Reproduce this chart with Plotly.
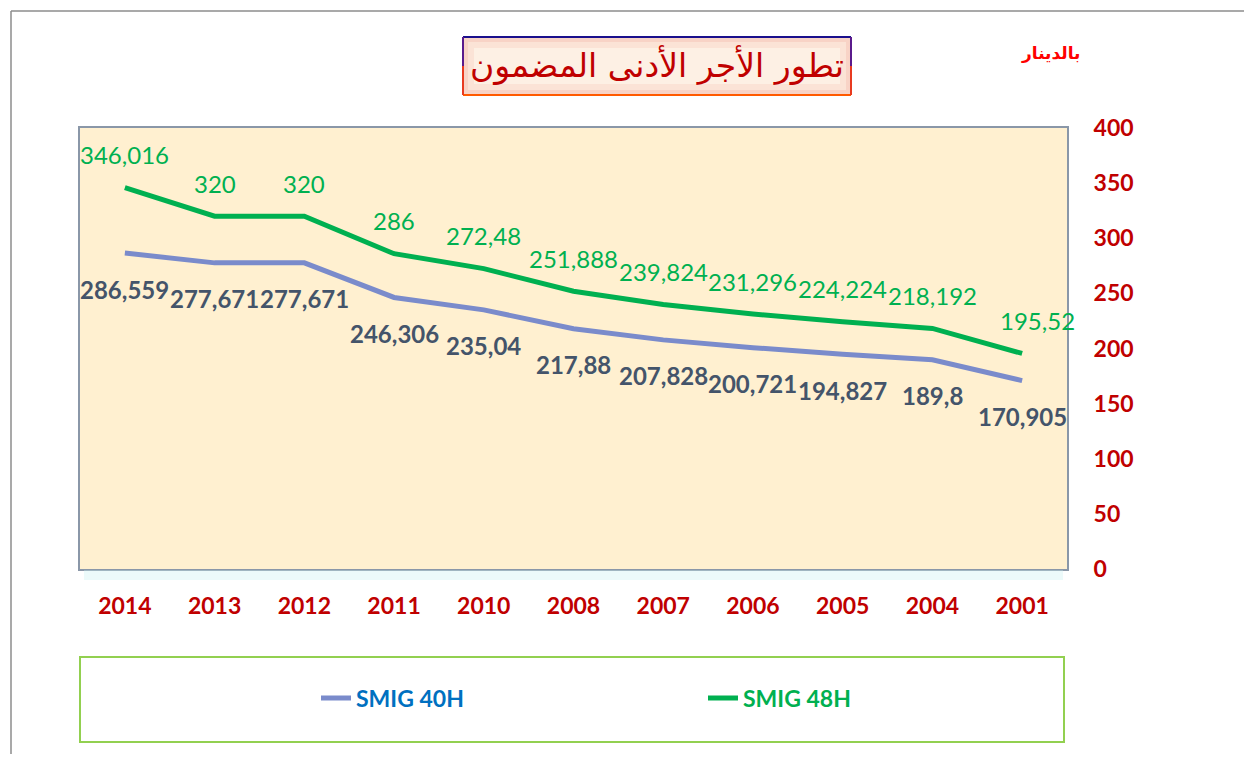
"""تطور الأجر الأدنى المضمون: SMIG 40H / 48H"""

import plotly.graph_objects as go

years = ["2014", "2013", "2012", "2011", "2010", "2008",
         "2007", "2006", "2005", "2004", "2001"]
smig_40h = [286.559, 277.671, 277.671, 246.306, 235.04, 217.88,
            207.828, 200.721, 194.827, 189.8, 170.905]
smig_48h = [346.016, 320, 320, 286, 272.48, 251.888,
            239.824, 231.296, 224.224, 218.192, 195.52]
y_ticks = [0, 50, 100, 150, 200, 250, 300, 350, 400]

OFF = 8  # marge du <body> de la page html
W, H = 1240, 746
# zone du graphique, en pixels de l'écran
L, R, T, B = 80, 1067, 128, 569


def px_x(px):
    return (px - L) / (R - L)


def px_y(py):
    return (B - py) / (B - T)


def fmt(v):
    return f"{v:g}".replace(".", ",")


DARK_RED = "#C00000"
GREEN = "#00B050"
BLUE_LINE = "#7A8BCB"
GRAY_TXT = "#44546A"
NUM_FONT = "Lato"

fig = go.Figure()
fig.add_trace(go.Scatter(
    x=years, y=smig_40h, mode="lines",
    name="<b><span style='color:#0070C0'>SMIG 40H</span></b>",
    line=dict(color=BLUE_LINE, width=5),
))
fig.add_trace(go.Scatter(
    x=years, y=smig_48h, mode="lines",
    name="<b><span style='color:#00B050'>SMIG 48H</span></b>",
    line=dict(color=GREEN, width=5),
))

annotations = []
for i, v in enumerate(smig_48h):
    annotations.append(dict(
        x=i, y=v, text=fmt(v), showarrow=False, yshift=33,
        xshift=15 if i == len(years) - 1 else 0,
        font=dict(family=NUM_FONT, size=24, color=GREEN),
    ))
for i, v in enumerate(smig_40h):
    annotations.append(dict(
        x=i, y=v, text=fmt(v), showarrow=False, yshift=-36,
        font=dict(family=NUM_FONT, size=24, color=GRAY_TXT, weight="bold"),
    ))

# titre encadré (le texte arabe est rendu décalé : on compense)
annotations.append(dict(
    xref="paper", yref="paper", x=px_x(657), y=px_y(43),
    text="تطور الأجر الأدنى المضمون", showarrow=False,
    font=dict(family="DejaVu Sans", size=33, color=DARK_RED),
))
annotations.append(dict(
    xref="paper", yref="paper", x=px_x(1082), y=px_y(41),
    text="<b>بالدينار</b>", showarrow=False,
    font=dict(family="DejaVu Sans", size=17, color="#FF0000"),
))

shapes = [
    # cadre extérieur
    dict(type="line", xref="paper", yref="paper",
         x0=px_x(11), y0=px_y(780), x1=px_x(11), y1=px_y(11),
         line=dict(color="#8C8C8C", width=1.5)),
    dict(type="line", xref="paper", yref="paper",
         x0=px_x(11), y0=px_y(11), x1=px_x(1260), y1=px_y(11),
         line=dict(color="#8C8C8C", width=1.5)),
    # boîte du titre
    dict(type="rect", xref="paper", yref="paper",
         x0=px_x(463), y0=px_y(95), x1=px_x(851), y1=px_y(37),
         fillcolor="#F8D3C6", line=dict(width=0), layer="below"),
    dict(type="rect", xref="paper", yref="paper",
         x0=px_x(468), y0=px_y(90), x1=px_x(846), y1=px_y(42),
         fillcolor="#FBE3D6", line=dict(width=0), layer="below"),
    dict(type="rect", xref="paper", yref="paper",
         x0=px_x(474), y0=px_y(84), x1=px_x(840), y1=px_y(48),
         fillcolor="#FDF0E4", line=dict(width=0), layer="below"),
    dict(type="line", xref="paper", yref="paper",
         x0=px_x(463), y0=px_y(37), x1=px_x(851), y1=px_y(37),
         line=dict(color="#1A0F8C", width=2)),
    dict(type="line", xref="paper", yref="paper",
         x0=px_x(463), y0=px_y(95), x1=px_x(851), y1=px_y(95),
         line=dict(color="#FF5A00", width=2)),
    dict(type="line", xref="paper", yref="paper",
         x0=px_x(463), y0=px_y(37), x1=px_x(463), y1=px_y(66),
         line=dict(color="#5A1A8C", width=2)),
    dict(type="line", xref="paper", yref="paper",
         x0=px_x(463), y0=px_y(66), x1=px_x(463), y1=px_y(95),
         line=dict(color="#E83A20", width=2)),
    dict(type="line", xref="paper", yref="paper",
         x0=px_x(851), y0=px_y(37), x1=px_x(851), y1=px_y(66),
         line=dict(color="#5A1A8C", width=2)),
    dict(type="line", xref="paper", yref="paper",
         x0=px_x(851), y0=px_y(66), x1=px_x(851), y1=px_y(95),
         line=dict(color="#E83A20", width=2)),
    # ombre sous la zone du graphique
    dict(type="rect", xref="paper", yref="paper",
         x0=px_x(84), y0=px_y(580), x1=px_x(1063), y1=px_y(570),
         fillcolor="rgba(200,242,240,0.35)", line=dict(width=0)),
    # boîte de la légende
    dict(type="rect", xref="paper", yref="paper",
         x0=px_x(80), y0=px_y(742), x1=px_x(1064), y1=px_y(657),
         fillcolor="white", line=dict(color="#92D050", width=2),
         layer="below"),
]

fig.update_layout(
    width=W, height=H,
    margin=dict(l=L - OFF, r=W - (R - OFF), t=T - OFF, b=H - (B - OFF)),
    paper_bgcolor="white",
    plot_bgcolor="#FFF0D0",
    showlegend=True,
    legend=dict(
        orientation="h", xref="paper", yref="paper",
        x=px_x(316), y=px_y(698), xanchor="left", yanchor="middle",
        entrywidth=342, entrywidthmode="pixels",
        bgcolor="rgba(0,0,0,0)",
        font=dict(family=NUM_FONT, size=23),
    ),
    xaxis=dict(
        type="category", range=[-0.5, len(years) - 0.5],
        showgrid=False, zeroline=False,
        showline=True, mirror=True, linecolor="#8A97A8", linewidth=2,
        ticks="", ticklabelstandoff=15,
        tickfont=dict(family=NUM_FONT, size=23, color=DARK_RED, weight="bold"),
    ),
    yaxis=dict(
        side="right", range=[0, 400], tickvals=y_ticks,
        showgrid=False, zeroline=False,
        showline=True, mirror=True, linecolor="#8A97A8", linewidth=2,
        ticks="", ticklabelstandoff=20,
        tickfont=dict(family=NUM_FONT, size=23, color=DARK_RED, weight="bold"),
    ),
    annotations=annotations,
    shapes=shapes,
)

fig.write_html("out.html")
